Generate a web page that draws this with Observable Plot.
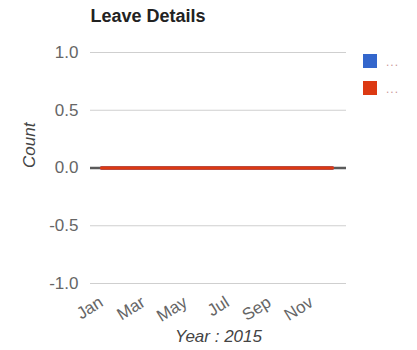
<!DOCTYPE html>
<html>
<head>
<meta charset="utf-8">
<script src="https://cdn.jsdelivr.net/npm/d3@7"></script>
<script src="https://cdn.jsdelivr.net/npm/@observablehq/plot@0.6"></script>
<style>
  html, body { margin: 0; padding: 0; background: #fff; }
  #wrap { position: relative; width: 417px; height: 350px; overflow: hidden; font-family: "Liberation Sans", Arial, sans-serif; }
  .leg { position: absolute; left: 363px; width: 14px; height: 14px; }
  .legtxt { position: absolute; left: 386px; font-size: 12px; color: #c99; line-height: 12px; letter-spacing: 1px; }
</style>
</head>
<body>
<div id="wrap"></div>
<script>
const title = "Leave Details";
const months = ["Jan","Feb","Mar","Apr","May","Jun","Jul","Aug","Sep","Oct","Nov","Dec"];
const tickMonths = ["Jan","Mar","May","Jul","Sep","Nov"];
const seriesNames = ["...", "..."];
const seriesColors = ["#3366cc", "#dc3912"];
const seriesA = [0,0,0,0,0,0,0,0,0,0,0,0];
const seriesB = [0,0,0,0,0,0,0,0,0,0,0,0];
const yTicks = [-1, -0.5, 0, 0.5, 1];
const yLabel = "Count";
const xLabel = "Year : 2015";

const dataA = months.map((m, i) => ({month: m, value: seriesA[i]}));
const dataB = months.map((m, i) => ({month: m, value: seriesB[i]}));
const fmt = (v) => v.toFixed(1);

const chart = Plot.plot({
  width: 417,
  height: 350,
  marginTop: 52,
  marginBottom: 67,
  marginLeft: 90,
  marginRight: 71,
  style: {fontFamily: "'Liberation Sans', Arial, sans-serif", fontSize: "17px", background: "white", color: "#444"},
  x: {type: "point", domain: months, padding: 0, insetLeft: 10, insetRight: 14},
  y: {domain: [-1, 1]},
  marks: [
    Plot.gridY(yTicks, {stroke: "#cfcfcf", strokeOpacity: 1, strokeWidth: 1}),
    Plot.ruleY([0], {stroke: "#5a5a5a", strokeWidth: 2.5}),
    Plot.lineY(dataA, {x: "month", y: "value", stroke: seriesColors[0], strokeWidth: 3.5}),
    Plot.lineY(dataB, {x: "month", y: "value", stroke: seriesColors[1], strokeWidth: 3.5}),
    Plot.axisY(yTicks, {tickSize: 0, tickPadding: 12, tickFormat: fmt, fill: "#666", fontSize: 17, label: null}),
    Plot.axisX(tickMonths, {tickSize: 0, tickPadding: 0, rotate: -32, textAnchor: "end", lineAnchor: "middle", dy: 17, fill: "#666", fontSize: 17, label: null}),
    Plot.text([yLabel], {frameAnchor: "left", dx: -61, rotate: -90, fontStyle: "italic", fill: "#444", fontSize: 17}),
    Plot.text([xLabel], {frameAnchor: "bottom", dy: 58, fontStyle: "italic", fill: "#444", fontSize: 17}),
    Plot.text([title], {frameAnchor: "top-left", dy: -36, textAnchor: "start", lineAnchor: "middle", fontWeight: "bold", fill: "#222", fontSize: 18})
  ]
});
const wrap = document.getElementById("wrap");
wrap.appendChild(chart);

const legTops = [54, 81];
seriesNames.forEach((name, i) => {
  const sw = document.createElement("div");
  sw.className = "leg";
  sw.style.top = legTops[i] + "px";
  sw.style.background = seriesColors[i];
  wrap.appendChild(sw);
  const t = document.createElement("div");
  t.className = "legtxt";
  t.style.top = (legTops[i] + 2) + "px";
  t.textContent = name;
  wrap.appendChild(t);
});
</script>
</body>
</html>
